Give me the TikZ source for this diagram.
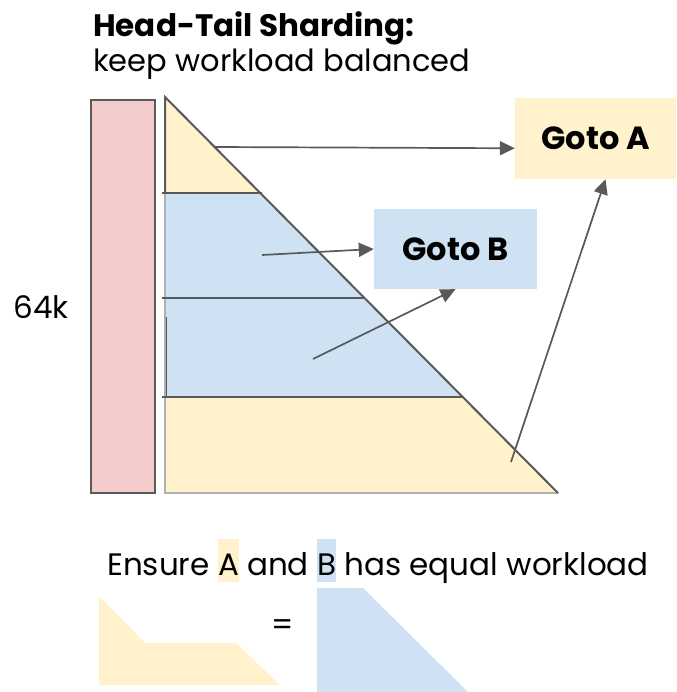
\documentclass[tikz,border=0pt]{standalone}
\usepackage{fontspec}
\setmainfont{Poppins}
\usetikzlibrary{arrows.meta,calc}

\definecolor{softyellow}{HTML}{FFF2CC}
\definecolor{softblue}{HTML}{CFE2F3}
\definecolor{softpink}{HTML}{F4CCCC}
\definecolor{edgegray}{HTML}{595959}
\definecolor{paleedge}{HTML}{B0B0B0}

\newcommand{\hlmark}[2]{{\setlength{\fboxsep}{0pt}\colorbox{#1}{\rule[-7pt]{0pt}{43pt}#2}}}

\tikzset{
  edge/.style={draw=edgegray, line width=2pt},
  paleline/.style={draw=paleedge, line width=1.2pt},
  arr/.style={draw=edgegray, line width=1.7pt, -{Triangle[length=15pt,width=14pt]}},
  gotobox/.style={rectangle, inner sep=0pt, font=\fontsize{32}{36}\selectfont\bfseries},
  txt/.style={inner sep=0pt, anchor=base west}
}

\begin{document}
\begin{tikzpicture}[x=1pt, y=-1pt]
\useasboundingbox (0,0) rectangle (676,692);

% title
\node[txt, font=\fontsize{31}{35}\selectfont\bfseries] (title) at (93,37) {Head-Tail Sharding:};
\node[txt, font=\fontsize{30.5}{35}\selectfont] (subtitle) at (93,72) {keep workload balanced};

% sequence bar
\draw[edge, fill=softpink] (91,100) rectangle (155,493);
\node[font=\fontsize{31}{34}\selectfont] (seqlen) at (41,307) {64k};

% attention triangle split into four shards
\fill[softyellow] (165,97) -- (260,193) -- (165,193) -- cycle;
\fill[softblue] (165,193) -- (260,193) -- (463,397) -- (165,397) -- cycle;
\fill[softyellow] (165,397) -- (463,397) -- (558,493) -- (165,493) -- cycle;
\draw[paleline] (165,193) -- (165,493) -- (558,493);
\draw[edgegray, line width=1pt] (166,317) -- (166,397);
\draw[edge] (162,193) -- (262,193);
\draw[edge] (162,298) -- (365,298);
\draw[edge] (162,397) -- (463,397);
\draw[edge] (165,193) -- (165,97) -- (558,493);

% targets
\node[gotobox, fill=softyellow, minimum width=161pt, minimum height=81pt] (gotoA) at (595.5,138.5) {Goto A};
\node[gotobox, fill=softblue, minimum width=163pt, minimum height=80pt] (gotoB) at (455.5,249) {Goto B};

% shard sources
\coordinate (headA) at (215,147);
\coordinate (upperB) at (262,255);
\coordinate (lowerB) at (313,359);
\coordinate (tailA) at (511,462);

\draw[arr] (headA) -- ($(gotoA.south west)!0.38!(gotoA.north west)$);
\draw[arr] (upperB) -- (gotoB.west);
\draw[arr] (lowerB) -- (gotoB.south);
\draw[arr] (tailA) -- ([xshift=10pt]gotoA.south);

% balance statement
\node[txt, font=\fontsize{31}{35}\selectfont] (claim) at (107,575)
  {Ensure \hlmark{softyellow}{A} and \hlmark{softblue}{B} has equal workload};
\fill[softyellow] (99,596) -- (145,643) -- (236,643) -- (280,685) -- (99,685) -- cycle;
\node[font=\fontsize{31}{35}\selectfont] (eqsign) at (283,628) {=};
\fill[softblue] (317,588) -- (363,588) -- (468,692) -- (317,692) -- cycle;
\end{tikzpicture}
\end{document}
